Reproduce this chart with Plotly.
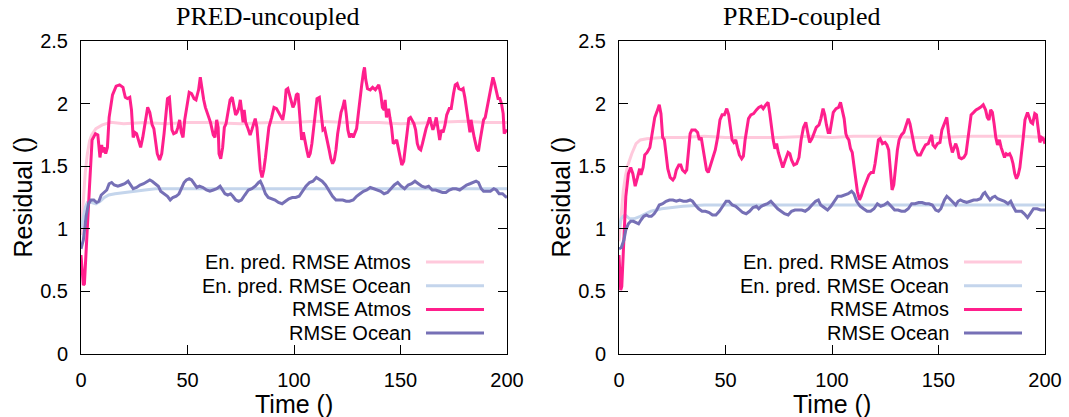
import plotly.graph_objects as go

# ---------------- data: PRED-uncoupled ----------------
t_unc_atm = [0, 1.1, 1.6, 2.7, 4, 5.2, 6.8, 7.9, 8.9, 9.7, 10.3, 10.8, 11.6, 12.4, 13.2, 14.8, 16.5, 18.1, 19.7, 20.8,
             21.8, 22.9, 23.7, 24.5, 25.3, 26.1, 26.9, 28, 29, 30.2, 31.3, 32.3, 33.4, 34.2, 35, 35.8, 36.9, 37.9, 39, 39.8,
             40.6, 41.5, 42.1, 42.7, 43.5, 44.7, 45.5, 46.3, 47.1, 47.9, 48.7, 49.8, 50.8, 51.9, 53.1, 54, 55.2, 56, 56.8, 57.6,
             58.4, 59.2, 60.8, 62.1, 62.9, 63.7, 64.4, 64.8, 65.6, 66.5, 67.3, 68.1, 68.9, 70, 71, 71.8, 72.6, 73.4, 74.2, 74.8,
             75.3, 76.1, 76.6, 77.3, 78.2, 79.4, 80.2, 81, 81.8, 82.6, 83.4, 84.2, 85, 85.8, 86.6, 87.4, 88.2, 89.5, 90.6, 91.8,
             92.7, 93.9, 94.7, 95.5, 96.3, 97.1, 97.9, 98.7, 99.5, 100.3, 101.1, 101.9, 102.7, 103.6, 104.4, 105.2, 106, 106.8, 107.6, 108.4,
             109.2, 110, 110.8, 111.9, 112.7, 113.6, 114.4, 114.8, 115.7, 116.5, 117.3, 118.1, 118.9, 119.7, 120.5, 121.3, 122.1, 122.9, 123.7, 124.5,
             125.3, 126.1, 126.9, 127.8, 128.6, 129.4, 130.2, 131, 131.8, 132.6, 133.1, 133.7, 134.5, 135.8, 136.9, 138.2, 139, 139.8, 140.7, 141.5,
             142.3, 142.8, 143.4, 144.4, 145, 145.8, 146.6, 147.4, 148.2, 149, 149.8, 150.6, 151.5, 152.3, 153.1, 153.9, 154.7, 155.5, 156.3, 157.1,
             157.9, 158.7, 159.5, 160.3, 161.2, 162, 162.8, 163.7, 164.4, 165.2, 166, 166.8, 167.6, 168.4, 169.2, 170, 170.9, 171.7, 172.9, 173.8,
             174.9, 175.7, 176.6, 177.4, 178.6, 179.4, 180.2, 181, 181.8, 182.6, 183.1, 183.7, 184.6, 185.8, 186.6, 187.4, 188.2, 189, 189.8, 190.6,
             191.4, 192.2, 193.4, 194.2, 195, 195.8, 196.6, 197.4, 198.2, 198.7, 199.5, 200]
rmse_unc_atm = [0.79, 0.55, 0.56, 0.96, 1.34, 1.71, 1.76, 1.75, 1.57, 1.67, 1.61, 1.65, 1.60, 1.65, 1.89, 2.07, 2.14, 2.15, 2.13, 2.05,
                2.04, 2.05, 1.95, 1.73, 1.77, 1.76, 1.71, 1.65, 1.73, 1.87, 1.97, 1.93, 1.83, 1.80, 1.71, 1.60, 1.55, 1.60, 1.76, 1.92,
                2.04, 2.05, 1.89, 1.79, 1.76, 1.77, 1.81, 1.87, 1.77, 1.73, 1.87, 1.97, 2.09, 2.08, 2.04, 2.03, 2.11, 2.21, 2.11, 2.03,
                1.97, 1.93, 1.85, 1.75, 1.73, 1.87, 1.81, 1.60, 1.56, 1.65, 1.81, 1.84, 1.92, 2.03, 2.05, 1.97, 1.91, 1.93, 1.97, 2.03,
                1.97, 1.85, 1.95, 1.85, 1.81, 1.75, 1.79, 1.84, 1.88, 1.81, 1.63, 1.47, 1.41, 1.47, 1.57, 1.71, 1.81, 1.89, 1.97, 1.96,
                1.93, 1.89, 1.87, 1.95, 2.11, 2.12, 2.07, 2.00, 1.97, 2.00, 2.07, 2.08, 1.89, 1.71, 1.77, 1.68, 1.63, 1.57, 1.60, 1.68,
                1.81, 1.95, 2.04, 2.05, 1.92, 1.79, 1.80, 1.77, 1.71, 1.63, 1.56, 1.52, 1.55, 1.63, 1.76, 1.84, 1.93, 1.97, 2.03, 1.92,
                1.79, 1.73, 1.76, 1.73, 1.76, 1.80, 1.92, 2.05, 2.15, 2.25, 2.29, 2.19, 2.12, 2.11, 2.13, 2.11, 2.13, 2.15, 2.08, 1.97,
                1.95, 2.03, 1.89, 1.96, 1.89, 1.81, 1.68, 1.69, 1.71, 1.65, 1.57, 1.51, 1.54, 1.65, 1.76, 1.88, 1.89, 1.87, 1.84, 1.79,
                1.68, 1.64, 1.63, 1.68, 1.76, 1.80, 1.84, 1.89, 1.84, 1.79, 1.83, 1.89, 1.80, 1.71, 1.79, 1.77, 1.83, 1.91, 1.96, 1.96,
                2.08, 2.15, 2.16, 2.12, 2.11, 2.12, 2.05, 1.95, 1.84, 1.77, 1.87, 1.80, 1.73, 1.64, 1.62, 1.71, 1.81, 1.87, 1.89, 1.96,
                2.04, 2.12, 2.21, 2.16, 2.11, 2.04, 2.04, 2.00, 1.92, 1.76, 1.79, 1.77]

t_unc_ocn = [0, 1.1, 2.4, 3.5, 4.7, 6, 7.3, 8.4, 9.5, 10.8, 12.1, 13.2, 14.4, 15.6, 17.3, 18.9, 20.5, 22.1, 23.4, 24.5,
             26.1, 27.7, 29.4, 31, 32.3, 33.4, 35, 36.3, 37.4, 39, 40.6, 41.9, 43.1, 44.7, 46, 47.1, 48.4, 49.5, 50.8, 51.9,
             53.1, 54.4, 55.6, 57.3, 58.9, 60.5, 62.1, 63.7, 65.3, 66.5, 67.6, 68.9, 70.2, 71.3, 72.6, 74, 75.3, 76.9, 78.6, 80.2,
             81.8, 83.4, 84.2, 85.3, 86.6, 87.9, 89.5, 91.1, 92.7, 94.4, 96, 97.6, 99.2, 100.8, 102.4, 104, 105.6, 107.3, 108.9, 110.5,
             111.6, 113.2, 114.8, 116.5, 118.1, 119.7, 121.3, 122.9, 124.5, 126.1, 127.8, 129.4, 131, 132.6, 134.2, 135.8, 137.5, 139, 140.7, 142.3,
             143.9, 145.5, 147.1, 148.7, 150.3, 151.9, 153.6, 155.2, 156.8, 158.4, 160, 161.6, 163.2, 164.9, 166.5, 168.1, 169.7, 171.3, 172.9, 174.5,
             176.1, 177.8, 179.4, 181, 182.6, 184.2, 185.5, 186.6, 187.9, 189, 190.6, 192.2, 193.8, 195, 196.3, 197.9, 199.2, 200]
rmse_unc_ocn = [0.84, 0.91, 1.10, 1.20, 1.23, 1.23, 1.21, 1.22, 1.27, 1.29, 1.31, 1.36, 1.37, 1.35, 1.34, 1.35, 1.36, 1.38, 1.35, 1.32,
                1.33, 1.35, 1.36, 1.38, 1.39, 1.38, 1.36, 1.34, 1.30, 1.28, 1.26, 1.23, 1.25, 1.26, 1.28, 1.32, 1.37, 1.39, 1.40, 1.39,
                1.36, 1.33, 1.34, 1.33, 1.31, 1.30, 1.31, 1.32, 1.34, 1.31, 1.28, 1.27, 1.28, 1.26, 1.23, 1.22, 1.23, 1.27, 1.31, 1.32,
                1.34, 1.37, 1.38, 1.34, 1.28, 1.25, 1.24, 1.23, 1.21, 1.20, 1.22, 1.24, 1.25, 1.25, 1.26, 1.30, 1.34, 1.37, 1.38, 1.41,
                1.40, 1.38, 1.35, 1.30, 1.26, 1.23, 1.23, 1.23, 1.22, 1.22, 1.23, 1.26, 1.28, 1.30, 1.31, 1.33, 1.32, 1.31, 1.30, 1.28,
                1.29, 1.32, 1.35, 1.37, 1.34, 1.32, 1.35, 1.36, 1.38, 1.36, 1.34, 1.33, 1.34, 1.31, 1.31, 1.30, 1.29, 1.29, 1.31, 1.32,
                1.32, 1.31, 1.33, 1.35, 1.36, 1.37, 1.38, 1.37, 1.32, 1.30, 1.30, 1.30, 1.32, 1.31, 1.28, 1.28, 1.26, 1.25]

t_unc_ens = [0, 1, 2, 3, 4, 5, 7, 10, 14, 20, 30, 40, 50, 60, 75, 90, 100, 110, 125, 140, 150, 165, 180, 190, 200]
ens_unc_atm = [0.95, 1.2, 1.45, 1.6, 1.7, 1.75, 1.8, 1.83, 1.85, 1.84, 1.85, 1.84, 1.85, 1.85, 1.84, 1.85, 1.85, 1.86, 1.85, 1.85, 1.84, 1.85, 1.86, 1.85, 1.85]
t_unc_ens_o = [0, 1, 2, 3, 5, 7, 9, 11, 13, 16, 20, 25, 30, 35, 50, 75, 100, 125, 150, 175, 200]
ens_unc_ocn = [1.0, 1.1, 1.17, 1.21, 1.21, 1.2, 1.22, 1.25, 1.27, 1.28, 1.29, 1.3, 1.31, 1.32, 1.32, 1.32, 1.32, 1.32, 1.32, 1.32, 1.32]

# ---------------- data: PRED-coupled ----------------
t_cpl_atm = [0, 0.8, 1.3, 2.3, 3.2, 4.4, 5.5, 6.5, 7.6, 8.7, 9.7, 10.3, 11.3, 12.1, 13.2, 14.5, 15.6, 16.8, 17.7, 18.9,
             19.7, 20.5, 21.3, 22.1, 22.9, 24, 25.3, 26.1, 26.9, 28.1, 29, 29.8, 31, 31.8, 32.6, 33.4, 34.2, 35.8, 36.9, 37.7,
             38.6, 39.4, 40.3, 41.1, 41.9, 43.1, 44.2, 45.2, 46.3, 47.4, 48.4, 49.5, 50.6, 51.5, 52.3, 53.1, 53.9, 54.8, 55.6, 56.5,
             57.6, 58.4, 59.2, 60, 60.8, 61.9, 63.2, 64.5, 65.6, 66.8, 67.7, 68.9, 70, 70.8, 71.6, 72.4, 73.2, 74, 74.8, 75.8,
             76.9, 78.1, 79.4, 80.2, 81, 82.1, 83.4, 84.5, 85.5, 86.6, 87.7, 88.7, 89.5, 90.6, 91.6, 92.6, 93.9, 94.8, 95.8, 96.6,
             97.4, 98.2, 99, 99.8, 100.6, 101.9, 103.1, 104, 104.8, 105.7, 106.5, 107.1, 107.9, 108.7, 109.5, 110.3, 111.1, 111.9, 112.9, 113.7,
             114.8, 116.1, 117.3, 118.4, 119.4, 120.2, 121, 121.8, 122.6, 123.7, 124.9, 125.8, 126.6, 127.4, 128.2, 129, 129.9, 130.7, 131.5, 132.6,
             133.7, 134.7, 135.8, 136.6, 137.4, 138.2, 139, 140.2, 141.5, 142.6, 143.9, 145.2, 146, 146.8, 147.4, 148.4, 149.5, 150.7, 151.6, 152.8,
             153.9, 154.7, 155.5, 156.5, 157.3, 158.1, 158.9, 159.7, 160.8, 161.9, 162.9, 163.7, 164.5, 165.3, 166.5, 167.6, 168.7, 169.7, 171, 172.1,
             172.9, 173.7, 174.5, 175.3, 176.1, 176.9, 177.7, 178.6, 179.4, 180.2, 181, 181.8, 182.6, 183.4, 184.2, 185, 185.8, 186.6, 187.4, 188.2,
             189, 189.8, 190.6, 191.8, 192.6, 193.4, 194.2, 195.2, 196, 196.8, 197.6, 198.4, 199.2, 200]
rmse_cpl_atm = [0.79, 0.51, 0.54, 0.96, 1.26, 1.44, 1.49, 1.44, 1.34, 1.41, 1.48, 1.43, 1.49, 1.59, 1.61, 1.65, 1.76, 1.89, 1.93, 1.99,
                1.92, 1.73, 1.71, 1.60, 1.48, 1.41, 1.39, 1.41, 1.47, 1.51, 1.51, 1.47, 1.45, 1.47, 1.63, 1.76, 1.79, 1.79, 1.77, 1.71,
                1.73, 1.65, 1.55, 1.47, 1.45, 1.52, 1.57, 1.63, 1.73, 1.87, 1.91, 1.91, 1.96, 1.91, 1.81, 1.71, 1.69, 1.71, 1.65, 1.59,
                1.56, 1.58, 1.71, 1.79, 1.88, 1.91, 1.92, 1.95, 1.97, 1.98, 1.96, 1.99, 2.01, 1.92, 1.81, 1.71, 1.64, 1.68, 1.61, 1.55,
                1.49, 1.55, 1.61, 1.60, 1.55, 1.51, 1.52, 1.57, 1.71, 1.81, 1.85, 1.76, 1.69, 1.72, 1.77, 1.81, 1.83, 1.88, 1.96, 1.91,
                1.83, 1.77, 1.77, 1.84, 1.93, 1.96, 1.97, 2.01, 1.95, 1.88, 1.76, 1.73, 1.71, 1.64, 1.61, 1.49, 1.39, 1.30, 1.23, 1.26,
                1.32, 1.38, 1.43, 1.45, 1.45, 1.52, 1.63, 1.71, 1.72, 1.68, 1.69, 1.67, 1.63, 1.44, 1.31, 1.35, 1.52, 1.63, 1.71, 1.75,
                1.77, 1.83, 1.88, 1.84, 1.76, 1.68, 1.63, 1.59, 1.59, 1.63, 1.67, 1.68, 1.71, 1.75, 1.67, 1.65, 1.68, 1.69, 1.79, 1.84,
                1.89, 1.77, 1.68, 1.61, 1.65, 1.68, 1.64, 1.57, 1.56, 1.57, 1.60, 1.71, 1.81, 1.91, 1.93, 1.95, 1.96, 1.97, 1.99, 1.95,
                1.89, 1.87, 1.95, 1.93, 1.84, 1.73, 1.67, 1.71, 1.65, 1.60, 1.57, 1.60, 1.59, 1.60, 1.57, 1.52, 1.44, 1.40, 1.43, 1.49,
                1.60, 1.73, 1.87, 1.93, 1.89, 1.85, 1.84, 1.92, 1.91, 1.81, 1.69, 1.73, 1.72, 1.68]

t_cpl_ocn = [0, 1.1, 2.3, 3.2, 4.4, 5.5, 6.8, 8.1, 9.2, 10.3, 11.6, 12.9, 14, 15.2, 16.5, 17.7, 18.9, 20.5, 22.1, 23.7,
             25.3, 26.9, 28.5, 30.2, 31.8, 33.4, 34.5, 35.8, 37.4, 39, 40.6, 42.3, 43.9, 45.5, 47.1, 48.7, 50.3, 51.6, 53.2, 54.8,
             56.5, 58.1, 59.7, 61.3, 62.9, 64.5, 65.6, 66.8, 68.1, 69.7, 71.3, 72.9, 74.5, 76.1, 77.7, 79.4, 81, 82.6, 84.2, 85.8,
             87.4, 89, 90.6, 92.3, 93.6, 94.7, 96.3, 97.9, 99.5, 101.1, 102.7, 104.4, 106, 107.6, 109.2, 110.3, 111.6, 113.2, 114.8, 116.5,
             118.1, 119.7, 121.3, 122.9, 124.5, 126.1, 127.8, 129.4, 131, 132.6, 134.2, 135.8, 137.4, 139, 140.7, 142.3, 143.9, 145.5, 147.1, 148.7,
             150, 151.1, 152.8, 153.9, 155.2, 156.5, 158.1, 159.2, 160.3, 161.6, 163.2, 164.9, 166.5, 168.1, 169.7, 171, 171.8, 172.9, 174.2, 175.3,
             176.5, 177.8, 179.4, 181, 182.6, 183.9, 185, 186.3, 187.7, 189, 190.3, 191.8, 193, 194.6, 196.3, 197.9, 200]
rmse_cpl_ocn = [0.84, 0.85, 0.91, 0.99, 1.04, 1.06, 1.06, 1.05, 1.04, 1.07, 1.10, 1.11, 1.10, 1.10, 1.12, 1.15, 1.19, 1.20, 1.22, 1.23,
                1.23, 1.22, 1.23, 1.22, 1.22, 1.23, 1.22, 1.19, 1.16, 1.14, 1.14, 1.13, 1.11, 1.11, 1.14, 1.18, 1.22, 1.22, 1.19, 1.18,
                1.15, 1.13, 1.12, 1.14, 1.17, 1.18, 1.16, 1.18, 1.19, 1.20, 1.22, 1.19, 1.16, 1.14, 1.12, 1.11, 1.14, 1.15, 1.15, 1.15,
                1.14, 1.16, 1.19, 1.22, 1.23, 1.19, 1.17, 1.15, 1.18, 1.22, 1.26, 1.26, 1.27, 1.28, 1.30, 1.28, 1.22, 1.18, 1.16, 1.14,
                1.14, 1.16, 1.20, 1.18, 1.19, 1.21, 1.18, 1.15, 1.15, 1.14, 1.14, 1.16, 1.20, 1.20, 1.21, 1.21, 1.20, 1.20, 1.19, 1.15,
                1.14, 1.16, 1.23, 1.26, 1.24, 1.22, 1.19, 1.22, 1.23, 1.22, 1.21, 1.22, 1.23, 1.23, 1.24, 1.28, 1.29, 1.26, 1.23, 1.25,
                1.26, 1.24, 1.23, 1.22, 1.20, 1.22, 1.18, 1.14, 1.14, 1.14, 1.12, 1.09, 1.12, 1.16, 1.16, 1.15, 1.15]

t_cpl_ens = [0, 1, 2, 3, 4, 6, 8, 10, 13, 20, 30, 40, 50, 60, 75, 90, 100, 110, 125, 140, 150, 165, 180, 190, 200]
ens_cpl_atm = [0.9, 1.1, 1.3, 1.42, 1.5, 1.6, 1.68, 1.71, 1.72, 1.73, 1.73, 1.74, 1.73, 1.73, 1.73, 1.74, 1.73, 1.74, 1.74, 1.73, 1.73, 1.74, 1.74, 1.74, 1.73]
t_cpl_ens_o = [0, 1, 2, 3, 5, 7, 10, 15, 20, 25, 30, 40, 50, 75, 100, 125, 150, 175, 200]
ens_cpl_ocn = [1.0, 1.08, 1.1, 1.11, 1.08, 1.08, 1.1, 1.14, 1.16, 1.17, 1.18, 1.19, 1.19, 1.19, 1.19, 1.19, 1.19, 1.19, 1.19]

titles = ["PRED-uncoupled", "PRED-coupled"]
legend_names = ["En. pred. RMSE Atmos", "En. pred. RMSE Ocean", "RMSE Atmos", "RMSE Ocean"]
x_ticks = [0, 50, 100, 150, 200]
y_ticks = [0, 0.5, 1, 1.5, 2, 2.5]
y_tick_text = ["0", "0.5", "1", "1.5", "2", "2.5"]

# ---------------- styling ----------------
C_ENS_ATM = "#ffc9dc"
C_ENS_OCN = "#c4d5ec"
C_ATM = "#ff1f8c"
C_OCN = "#7670b6"
colors = [C_ENS_ATM, C_ENS_OCN, C_ATM, C_OCN]
W, H = 1069, 417

fig = go.Figure()

panels = [
    ("x", "y", [(t_unc_ens, ens_unc_atm), (t_unc_ens_o, ens_unc_ocn), (t_unc_atm, rmse_unc_atm), (t_unc_ocn, rmse_unc_ocn)]),
    ("x2", "y2", [(t_cpl_ens, ens_cpl_atm), (t_cpl_ens_o, ens_cpl_ocn), (t_cpl_atm, rmse_cpl_atm), (t_cpl_ocn, rmse_cpl_ocn)]),
]
for xa, ya, series in panels:
    for (tx, vy), col, nm in zip(series, colors, legend_names):
        fig.add_trace(go.Scatter(x=tx, y=vy, mode="lines", name=nm, showlegend=False,
                                 line=dict(color=col, width=3), xaxis=xa, yaxis=ya))

dom_x1 = [81 / W, 507 / W]
dom_x2 = [619 / W, 1045 / W]
dom_y = [1 - 354 / H, 1 - 41 / H]

tickfont = dict(family="Liberation Sans, Arial, sans-serif", size=20, color="black")
common_x = dict(range=[0, 200], tickvals=x_ticks, ticks="inside", ticklen=9, tickcolor="black", tickwidth=1,
                showline=True, linecolor="black", linewidth=1, mirror="ticks", showgrid=False, zeroline=False,
                tickfont=tickfont, ticklabelstandoff=8, automargin=False)
common_y = dict(range=[0, 2.5], tickvals=y_ticks, ticktext=y_tick_text, ticks="inside", ticklen=9, tickcolor="black",
                tickwidth=1, showline=True, linecolor="black", linewidth=1, mirror="ticks", showgrid=False,
                zeroline=False, tickfont=tickfont, ticklabelstandoff=8, automargin=False)

fig.update_layout(
    width=W, height=H, margin=dict(l=0, r=0, t=0, b=0, autoexpand=False),
    paper_bgcolor="white", plot_bgcolor="white", showlegend=False,
    xaxis=dict(domain=dom_x1, anchor="y", **common_x),
    yaxis=dict(domain=dom_y, anchor="x", **common_y),
    xaxis2=dict(domain=dom_x2, anchor="y2", **common_x),
    yaxis2=dict(domain=dom_y, anchor="x2", **common_y),
)

ann = []
shapes = []
for i, (x0, x1) in enumerate([(81, 507), (619, 1045)]):
    # panel title (centred on half canvas)
    ann.append(dict(text=titles[i], x=(267 + 534 * i) / W, y=1 - 17 / H, xref="paper", yref="paper",
                    xanchor="center", yanchor="middle", showarrow=False,
                    font=dict(family="Liberation Serif, Times New Roman, serif", size=26, color="black")))
    # axis titles
    ann.append(dict(text="Residual ()", x=(x0 - 58) / W, y=1 - 197.5 / H, xref="paper", yref="paper",
                    xanchor="center", yanchor="middle", textangle=-90, showarrow=False,
                    font=dict(family="Liberation Sans, Arial, sans-serif", size=25, color="black")))
    ann.append(dict(text="Time ()", x=(x0 + x1) / 2 / W, y=1 - 404 / H, xref="paper", yref="paper",
                    xanchor="center", yanchor="middle", showarrow=False,
                    font=dict(family="Liberation Sans, Arial, sans-serif", size=25, color="black")))
    # manual gnuplot-style legend (text right, sample on the right)
    for j, (nm, col) in enumerate(zip(legend_names, colors)):
        yc = 262 + j * 23.7
        ann.append(dict(text=nm, x=(x0 + 332) / W, y=1 - yc / H, xref="paper", yref="paper",
                        xanchor="right", yanchor="middle", showarrow=False,
                        font=dict(family="Liberation Sans, Arial, sans-serif", size=20, color="black")))
        shapes.append(dict(type="line", xref="paper", yref="paper", x0=(x0 + 345) / W, x1=(x0 + 403) / W,
                           y0=1 - yc / H, y1=1 - yc / H, line=dict(color=col, width=3)))

fig.update_layout(annotations=ann, shapes=shapes)
fig.write_html("out.html")
